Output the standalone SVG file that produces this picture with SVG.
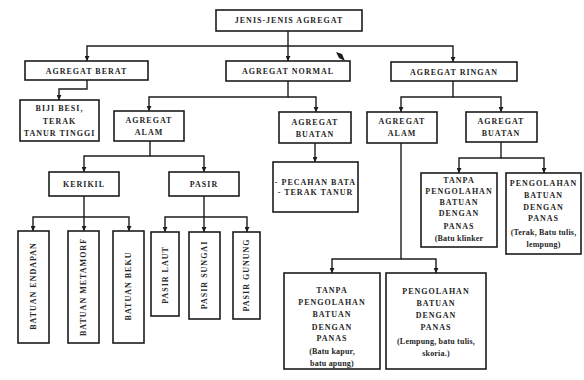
<svg xmlns="http://www.w3.org/2000/svg" width="584" height="380" viewBox="0 0 584 380">
<style>
.b{fill:#fff;stroke:#1c1c1c;stroke-width:1.6}
.c{fill:none;stroke:#1c1c1c;stroke-width:1.4}
.t{font-family:"Liberation Serif","Times New Roman",serif;font-weight:bold;font-size:8px;letter-spacing:1px;fill:#262626;text-anchor:middle}
.s{letter-spacing:0.2px}
</style>
<defs>
<marker id="ah" viewBox="0 0 10 10" refX="10" refY="5" markerWidth="5" markerHeight="5" orient="auto" markerUnits="userSpaceOnUse">
<path d="M0,0 L10,5 L0,10 z" fill="#1c1c1c"/>
</marker>
</defs>
<rect width="584" height="380" fill="#fff"/>
<g id="connectors">
<path class="c" d="M288,31 V46 H87 V61" marker-end="url(#ah)"/>
<path class="c" d="M288,46 V61" marker-end="url(#ah)"/>
<path class="c" d="M288,46 H453 V62" marker-end="url(#ah)"/>
<path d="M336,52 L342,54 L345,61 L339,58 z" fill="#1c1c1c"/>
<path class="c" d="M87,80 V89 H59 V100" marker-end="url(#ah)"/>
<path class="c" d="M288,81 V97 H149 V111" marker-end="url(#ah)"/>
<path class="c" d="M288,97 H316 V112" marker-end="url(#ah)"/>
<path class="c" d="M453,81 V97 H401 V112" marker-end="url(#ah)"/>
<path class="c" d="M453,97 H501 V112" marker-end="url(#ah)"/>
<path class="c" d="M150,141 V156 H84 V172" marker-end="url(#ah)"/>
<path class="c" d="M150,156 H204 V172" marker-end="url(#ah)"/>
<path class="c" d="M84,196 V217 H33 V231" marker-end="url(#ah)"/>
<path class="c" d="M84,217 V231" marker-end="url(#ah)"/>
<path class="c" d="M84,217 H129 V231" marker-end="url(#ah)"/>
<path class="c" d="M204,196 V217 H165 V232" marker-end="url(#ah)"/>
<path class="c" d="M204,217 V232" marker-end="url(#ah)"/>
<path class="c" d="M204,217 H247 V232" marker-end="url(#ah)"/>
<path class="c" d="M315,143 V162" marker-end="url(#ah)"/>
<path class="c" d="M501,142 V158 H459 V173" marker-end="url(#ah)"/>
<path class="c" d="M501,158 H544 V173" marker-end="url(#ah)"/>
<path class="c" d="M401,143 V259 H332 V273" marker-end="url(#ah)"/>
<path class="c" d="M401,259 H436 V273" marker-end="url(#ah)"/>
</g>
<g id="jenis"><rect class="b" x="216" y="10" width="146" height="21"/><text class="t" x="289" y="23.3">JENIS-JENIS AGREGAT</text></g>
<g id="berat"><rect class="b" x="25" y="61" width="123" height="19"/><text class="t" x="86.5" y="73.5">AGREGAT BERAT</text></g>
<g id="normal"><rect class="b" x="226" y="61" width="124" height="20"/><text class="t" x="288" y="74">AGREGAT NORMAL</text></g>
<g id="ringan"><rect class="b" x="391" y="62" width="126" height="19"/><text class="t" x="454" y="74.5">AGREGAT RINGAN</text></g>
<g id="biji"><rect class="b" x="20" y="100" width="79" height="41"/><text class="t" x="59.5" y="111">BIJI BESI,</text><text class="t" x="59.5" y="124">TERAK</text><text class="t" x="59.5" y="136">TANUR TINGGI</text></g>
<g id="alam-normal"><rect class="b" x="114" y="111" width="70" height="30"/><text class="t" x="149" y="123">AGREGAT</text><text class="t" x="149" y="135">ALAM</text></g>
<g id="buatan-normal"><rect class="b" x="279" y="112" width="72" height="31"/><text class="t" x="315" y="125">AGREGAT</text><text class="t" x="315" y="137">BUATAN</text></g>
<g id="alam-ringan"><rect class="b" x="367" y="112" width="70" height="31"/><text class="t" x="402" y="123.5">AGREGAT</text><text class="t" x="402" y="136">ALAM</text></g>
<g id="buatan-ringan"><rect class="b" x="466" y="112" width="71" height="30"/><text class="t" x="501" y="123.5">AGREGAT</text><text class="t" x="501" y="136">BUATAN</text></g>
<g id="kerikil"><rect class="b" x="49" y="172" width="70" height="24"/><text class="t" x="84" y="186.8">KERIKIL</text></g>
<g id="pasir"><rect class="b" x="169" y="172" width="70" height="24"/><text class="t" x="204" y="186.8">PASIR</text></g>
<g id="pecahan"><rect class="b" x="273" y="162" width="85" height="50"/><text class="t" x="315.5" y="185">- PECAHAN BATA</text><text class="t" x="315.5" y="195">- TERAK TANUR</text></g>
<g id="tanpa-buatan"><rect class="b" x="421" y="173" width="76" height="74"/>
<text class="t" x="459" y="182.8">TANPA</text><text class="t" x="459" y="193.5">PENGOLAHAN</text><text class="t" x="459" y="205">BATUAN</text><text class="t" x="459" y="216">DENGAN</text><text class="t" x="459" y="228.8">PANAS</text><text class="t s" x="459" y="240.5">(Batu klinker</text></g>
<g id="pengolahan-buatan"><rect class="b" x="506" y="173" width="75" height="81"/>
<text class="t" x="543.5" y="186">PENGOLAHAN</text><text class="t" x="543.5" y="197.8">BATUAN</text><text class="t" x="543.5" y="209.5">DENGAN</text><text class="t" x="543.5" y="221">PANAS</text><text class="t s" x="543.5" y="234.5">(Terak, Batu tulis,</text><text class="t s" x="543.5" y="247">lempung)</text></g>
<g id="endapan"><rect class="b" x="18" y="231" width="31" height="112"/><text class="t" transform="translate(33.5,286) rotate(-90)" y="2.8">BATUAN  ENDAPAN</text></g>
<g id="metamorf"><rect class="b" x="68" y="231" width="31" height="112"/><text class="t" transform="translate(83.5,287) rotate(-90)" y="2.8">BATUAN  METAMORF</text></g>
<g id="beku"><rect class="b" x="113" y="231" width="31" height="112"/><text class="t" transform="translate(128.5,286) rotate(-90)" y="2.8">BATUAN BEKU</text></g>
<g id="laut"><rect class="b" x="151" y="232" width="28" height="84"/><text class="t" transform="translate(165,275) rotate(-90)" y="2.8">PASIR  LAUT</text></g>
<g id="sungai"><rect class="b" x="189" y="232" width="31" height="87"/><text class="t" transform="translate(204.5,275) rotate(-90)" y="2.8">PASIR  SUNGAI</text></g>
<g id="gunung"><rect class="b" x="233" y="232" width="27" height="87"/><text class="t" transform="translate(246.5,275) rotate(-90)" y="2.8">PASIR  GUNUNG</text></g>
<g id="tanpa-alam"><rect class="b" x="284" y="273" width="96" height="96"/>
<text class="t" x="332" y="292.8">TANPA</text><text class="t" x="332" y="305">PENGOLAHAN</text><text class="t" x="332" y="317">BATUAN</text><text class="t" x="332" y="329.5">DENGAN</text><text class="t" x="332" y="340.5">PANAS</text><text class="t s" x="332" y="353.8">(Batu kapur,</text><text class="t s" x="332" y="366">batu apung)</text></g>
<g id="pengolahan-alam"><rect class="b" x="386" y="273" width="100" height="96"/>
<text class="t" x="436" y="293.8">PENGOLAHAN</text><text class="t" x="436" y="306">BATUAN</text><text class="t" x="436" y="317.8">DENGAN</text><text class="t" x="436" y="330">PANAS</text><text class="t s" x="436" y="343.8">(Lempung, batu tulis,</text><text class="t s" x="436" y="355.5">skoria.)</text></g>
</svg>
